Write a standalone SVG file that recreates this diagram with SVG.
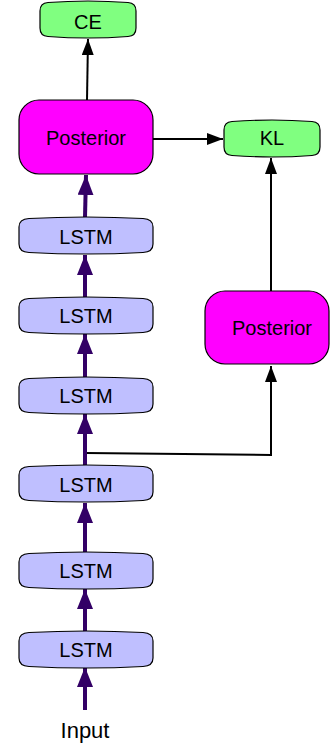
<svg xmlns="http://www.w3.org/2000/svg" xmlns:xlink="http://www.w3.org/1999/xlink" width="330" height="749" viewBox="0 0 330 749">
<style>
text{font-family:"Liberation Sans",Arial,sans-serif;font-size:20px;fill:#000;text-anchor:middle}
.lstm{fill:#BFBFFF;stroke:#000;stroke-width:1.2}
.loss{fill:#80FF80;stroke:#000;stroke-width:1.2}
.post{fill:#FF00FF;stroke:#000;stroke-width:1.2}
.blk{stroke:#000;stroke-width:2;fill:none}
.pur{stroke:#330066;stroke-width:4;fill:none}
</style>
<defs>
<path id="tape134" d="M0,10 Q0,2 10,1.5 Q67,-1.5 124,1.5 Q134,2 134,10 L134,27 Q134,35 124,35.5 Q67,38.5 10,35.5 Q0,35 0,27 Z"/>
<path id="tape96" d="M0,10 Q0,2 8,1.5 Q48,-1.5 88,1.5 Q96,2 96,10 L96,27 Q96,35 88,35.5 Q48,38.5 8,35.5 Q0,35 0,27 Z"/>
<marker id="ab" markerUnits="userSpaceOnUse" markerWidth="17" markerHeight="13" refX="16" refY="6" orient="auto"><path d="M0,0 L16,6 L0,12 Z" fill="#000"/></marker>
<marker id="ap" markerUnits="userSpaceOnUse" markerWidth="21" markerHeight="17" refX="20" refY="8" orient="auto"><path d="M0,0 L20,8 L0,16 Z" fill="#330066"/></marker>
</defs>
<g id="connectors">
<path class="blk" d="M87,100 L88,39" marker-end="url(#ab)"/>
<path class="blk" d="M153,139 L223,139" marker-end="url(#ab)"/>
<path class="blk" d="M271,291 L271,158" marker-end="url(#ab)"/>
<path class="blk" d="M86,453 L271,455 L271,366" marker-end="url(#ab)"/>
<path class="pur" d="M85,710 L85,667" marker-end="url(#ap)"/>
<path class="pur" d="M85,632 L85,589" marker-end="url(#ap)"/>
<path class="pur" d="M85,552 L85,503" marker-end="url(#ap)"/>
<path class="pur" d="M85,466 L85,414" marker-end="url(#ap)"/>
<path class="pur" d="M85,377 L85,334" marker-end="url(#ap)"/>
<path class="pur" d="M85,297 L85,255" marker-end="url(#ap)"/>
<path class="pur" d="M85,217 L86,175" marker-end="url(#ap)"/>
</g>
<g id="ce"><use xlink:href="#tape96" class="loss" transform="translate(40,1)"/><text x="88" y="29">CE</text></g>
<g id="posterior1"><rect class="post" x="19" y="100" width="134" height="74" rx="20"/><text x="86" y="145">Posterior</text></g>
<g id="kl"><use xlink:href="#tape96" class="loss" transform="translate(224,120)"/><text x="272" y="145">KL</text></g>
<g id="posterior2"><rect class="post" x="205" y="291" width="124" height="73" rx="20"/><text x="272" y="335">Posterior</text></g>
<g id="lstm1"><use xlink:href="#tape134" class="lstm" transform="translate(19,217)"/><text x="86" y="244">LSTM</text></g>
<g id="lstm2"><use xlink:href="#tape134" class="lstm" transform="translate(19,297)"/><text x="86" y="323">LSTM</text></g>
<g id="lstm3"><use xlink:href="#tape134" class="lstm" transform="translate(19,377)"/><text x="86" y="403">LSTM</text></g>
<g id="lstm4"><use xlink:href="#tape134" class="lstm" transform="translate(19,465)"/><text x="86" y="492">LSTM</text></g>
<g id="lstm5"><use xlink:href="#tape134" class="lstm" transform="translate(19,552)"/><text x="86" y="578">LSTM</text></g>
<g id="lstm6"><use xlink:href="#tape134" class="lstm" transform="translate(19,631)"/><text x="86" y="657">LSTM</text></g>
<g id="input"><text x="85" y="738" style="font-size:22px">Input</text></g>
</svg>
